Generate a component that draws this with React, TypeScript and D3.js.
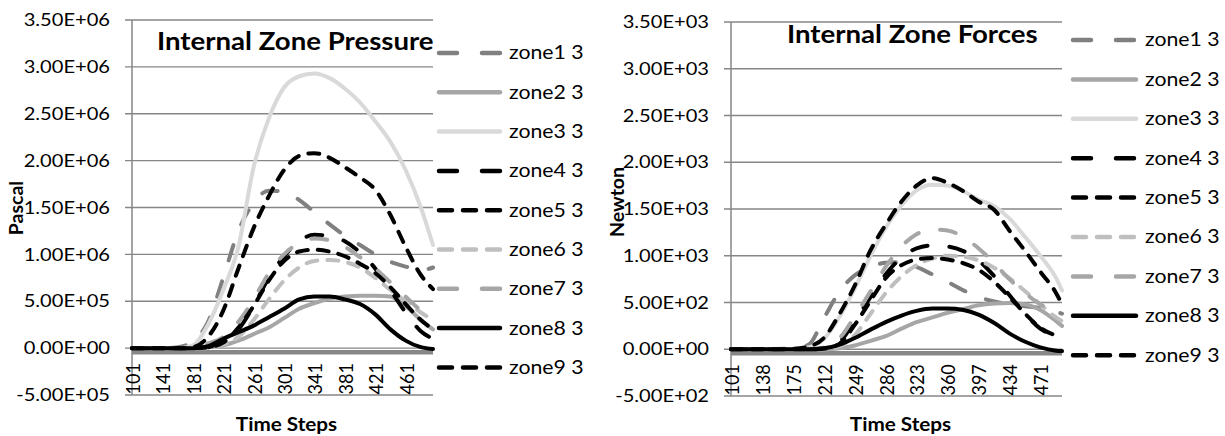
import React from 'react';
import * as d3 from 'd3';

const FONT = "Lato, 'Open Sans', sans-serif";
const SX = 1.15; // horizontal stretch of text in the reference

// ---------- Legend / series styling ----------
const zoneNames = ['zone1 3', 'zone2 3', 'zone3 3', 'zone4 3', 'zone5 3', 'zone6 3', 'zone7 3', 'zone8 3', 'zone9 3'];
const zoneColors = ['#808080', '#a6a6a6', '#d9d9d9', '#000000', '#000000', '#bfbfbf', '#a6a6a6', '#000000', '#000000'];
const zoneDash = ['long', 'solid', 'solid', 'long', 'short', 'short', 'long', 'solid', 'short'];

// ---------- Internal Zone Pressure (Pa) ----------
const pressureSteps = [101, 141, 161, 181, 201, 221, 241, 261, 281, 301, 321, 341, 361, 381, 401, 421, 441, 461, 481, 497];
const pZone1 = [0, 0, 0.01e6, 0.07e6, 0.28e6, 0.75e6, 1.25e6, 1.55e6, 1.68e6, 1.67e6, 1.58e6, 1.45e6, 1.32e6, 1.2e6, 1.1e6, 1.0e6, 0.92e6, 0.87e6, 0.83e6, 0.86e6];
const pZone2 = [0, 0, 0, 0, 0.01e6, 0.03e6, 0.08e6, 0.15e6, 0.22e6, 0.32e6, 0.42e6, 0.48e6, 0.53e6, 0.55e6, 0.56e6, 0.56e6, 0.55e6, 0.45e6, 0.3e6, 0.2e6];
const pZone3 = [0, 0, 0, 0.03e6, 0.25e6, 0.62e6, 1.08e6, 1.93e6, 2.45e6, 2.78e6, 2.9e6, 2.93e6, 2.88e6, 2.77e6, 2.62e6, 2.42e6, 2.2e6, 1.9e6, 1.5e6, 1.1e6];
const pZone4 = [0, 0, 0, 0, 0.01e6, 0.08e6, 0.2e6, 0.45e6, 0.75e6, 0.98e6, 1.14e6, 1.21e6, 1.19e6, 1.14e6, 1.02e6, 0.85e6, 0.62e6, 0.38e6, 0.18e6, 0.1e6];
const pZone5 = [0, 0, 0, 0.01e6, 0.12e6, 0.4e6, 0.85e6, 1.28e6, 1.62e6, 1.9e6, 2.05e6, 2.08e6, 2.03e6, 1.93e6, 1.82e6, 1.69e6, 1.42e6, 1.08e6, 0.78e6, 0.63e6];
const pZone6 = [0, 0, 0, 0, 0, 0.04e6, 0.12e6, 0.3e6, 0.52e6, 0.72e6, 0.86e6, 0.93e6, 0.94e6, 0.92e6, 0.86e6, 0.75e6, 0.62e6, 0.5e6, 0.38e6, 0.3e6];
const pZone7 = [0, 0, 0, 0.01e6, 0.05e6, 0.12e6, 0.28e6, 0.52e6, 0.8e6, 1.0e6, 1.12e6, 1.17e6, 1.15e6, 1.08e6, 0.97e6, 0.85e6, 0.7e6, 0.55e6, 0.4e6, 0.3e6];
const pZone8 = [0, 0, 0, 0, 0.02e6, 0.1e6, 0.17e6, 0.24e6, 0.33e6, 0.42e6, 0.52e6, 0.55e6, 0.55e6, 0.52e6, 0.47e6, 0.36e6, 0.2e6, 0.08e6, 0.01e6, -0.01e6];
const pZone9 = [0, 0, 0, 0, 0.01e6, 0.06e6, 0.22e6, 0.45e6, 0.72e6, 0.93e6, 1.03e6, 1.05e6, 1.03e6, 0.98e6, 0.9e6, 0.8e6, 0.65e6, 0.47e6, 0.3e6, 0.2e6];
const pressureTicksX = [101, 141, 181, 221, 261, 301, 341, 381, 421, 461];
const pressureTicksY = [-5e5, 0, 5e5, 1e6, 1.5e6, 2e6, 2.5e6, 3e6, 3.5e6];

// ---------- Internal Zone Forces (N) ----------
const forceSteps = [101, 138, 175, 194, 212, 231, 249, 268, 286, 305, 323, 342, 360, 379, 397, 416, 434, 453, 471, 490, 497];
const fZone1 = [0, 0, 10, 50, 330, 620, 790, 880, 925, 930, 880, 800, 720, 630, 560, 510, 480, 460, 440, 400, 380];
const fZone2 = [0, 0, 0, 0, 0, 10, 40, 90, 140, 220, 290, 340, 390, 430, 470, 490, 495, 480, 420, 300, 250];
const fZone3 = [0, 0, 0, 20, 110, 350, 650, 1000, 1300, 1540, 1700, 1760, 1750, 1690, 1600, 1530, 1400, 1200, 1000, 760, 630];
const fZone4 = [0, 0, 0, 0, 10, 80, 300, 560, 800, 980, 1080, 1110, 1100, 1050, 950, 780, 580, 380, 220, 140, 120];
const fZone5 = [0, 0, 5, 30, 120, 380, 680, 1060, 1330, 1580, 1750, 1830, 1780, 1690, 1580, 1490, 1270, 1050, 830, 600, 480];
const fZone6 = [0, 0, 0, 0, 0, 30, 150, 380, 600, 780, 900, 970, 1000, 990, 950, 870, 760, 620, 480, 340, 300];
const fZone7 = [0, 0, 0, 0, 20, 120, 350, 620, 880, 1100, 1230, 1280, 1270, 1200, 1080, 920, 750, 600, 480, 400, 370];
const fZone8 = [0, 0, 0, 0, 10, 50, 120, 210, 290, 360, 410, 435, 435, 420, 370, 280, 170, 80, 20, -15, -20];
const fZone9 = [0, 0, 0, 0, 5, 60, 260, 520, 760, 900, 960, 975, 960, 920, 850, 720, 560, 380, 230, 150, 140];
const forceTicksX = [101, 138, 175, 212, 249, 286, 323, 360, 397, 434, 471];
const forceTicksY = [-500, 0, 500, 1000, 1500, 2000, 2500, 3000, 3500];

const LAST_STEP = 497;

function sci(v: number): string {
  if (v === 0) return '0.00E+00';
  const e = Math.floor(Math.log10(Math.abs(v)));
  const m = v / Math.pow(10, e);
  return `${m.toFixed(2)}E${e < 0 ? '-' : '+'}${String(Math.abs(e)).padStart(2, '0')}`;
}

function dashArray(kind: string): string | undefined {
  if (kind === 'long') return '16 22';
  if (kind === 'short') return '11 10';
  return undefined;
}

function SText(props: {
  x: number;
  y: number;
  size: number;
  anchor?: string;
  bold?: boolean;
  children: React.ReactNode;
}) {
  return (
    <text
      transform={`translate(${props.x},${props.y}) scale(${SX},1)`}
      dy="0.35em"
      textAnchor={props.anchor || 'start'}
      fontFamily={FONT}
      fontWeight={props.bold ? 'bold' : 'normal'}
      fontSize={props.size}
      fill="#000"
    >
      {props.children}
    </text>
  );
}

type PanelProps = {
  title: string;
  titleX: number;
  titleY: number;
  yTitle: string;
  yTitleX: number;
  yTitleY: number;
  plotL: number;
  plotR: number;
  yTop: number;
  yBot: number;
  yLabelX: number;
  steps: number[];
  series: number[][];
  ticksX: number[];
  ticksY: number[];
  legendX0: number;
  legendX1: number;
  legendTextX: number;
  legendY0: number;
  legendDY: number;
};

function Panel(p: PanelProps) {
  const x = d3.scaleLinear().domain([101, LAST_STEP]).range([p.plotL, p.plotR]);
  const y = d3
    .scaleLinear()
    .domain([p.ticksY[0], p.ticksY[p.ticksY.length - 1]])
    .range([p.yBot, p.yTop]);
  const line = d3
    .line<[number, number]>()
    .x((d) => x(d[0]))
    .y((d) => y(d[1]))
    .curve(d3.curveMonotoneX);
  const gridColor = '#868686';
  return (
    <g>
      {p.ticksY.map((t) => (
        <line key={'g' + t} x1={p.plotL - 7} x2={p.plotR} y1={y(t)} y2={y(t)} stroke={gridColor} strokeWidth={1.3} />
      ))}
      <line x1={p.plotL} x2={p.plotL} y1={y(p.ticksY[p.ticksY.length - 1])} y2={p.yBot} stroke={gridColor} strokeWidth={1.5} />
      <line x1={p.plotL} x2={p.plotR} y1={y(0) + 4} y2={y(0) + 4} stroke="#878787" strokeWidth={4.5} />
      {p.ticksY.map((t) => (
        <SText key={'yl' + t} x={p.yLabelX} y={y(t)} size={17.5} anchor="end">
          {sci(t)}
        </SText>
      ))}
      {p.ticksX.map((t) => (
        <text
          key={'xl' + t}
          transform={`translate(${x(t) + 1},${y(0) + 15}) rotate(-90) scale(1,1.1)`}
          dy="0.35em"
          textAnchor="end"
          fontFamily={FONT}
          fontSize={18}
          fill="#000"
        >
          {t}
        </text>
      ))}
      {p.series.map((vals, i) => (
        <path
          key={'s' + i}
          d={line(p.steps.map((s, j) => [s, vals[j]] as [number, number])) || ''}
          fill="none"
          stroke={zoneColors[i]}
          strokeWidth={4}
          strokeDasharray={dashArray(zoneDash[i])}
          strokeLinecap="round"
          strokeLinejoin="round"
        />
      ))}
      <SText x={p.titleX} y={p.titleY} size={24} bold>
        {p.title}
      </SText>
      <SText x={(p.plotL + p.plotR) / 2 + 4} y={425} size={18} bold anchor="middle">
        Time Steps
      </SText>
      <text
        transform={`translate(${p.yTitleX},${p.yTitleY}) rotate(-90)`}
        dy="0.35em"
        textAnchor="middle"
        fontFamily={FONT}
        fontWeight="bold"
        fontSize={19.5}
        fill="#000"
      >
        {p.yTitle}
      </text>
      {zoneNames.map((n, i) => {
        const ly = p.legendY0 + i * p.legendDY;
        return (
          <g key={'lg' + i}>
            <line
              x1={p.legendX0}
              x2={p.legendX1}
              y1={ly}
              y2={ly}
              stroke={zoneColors[i]}
              strokeWidth={4.5}
              strokeDasharray={zoneDash[i] === 'long' ? '18 25' : zoneDash[i] === 'short' ? '13 11' : undefined}
              strokeLinecap="round"
            />
            <SText x={p.legendTextX} y={ly} size={18.5}>
              {n}
            </SText>
          </g>
        );
      })}
    </g>
  );
}

export default function App() {
  return (
    <svg
      width={1225}
      height={436}
      viewBox="0 0 1225 436"
      style={{ position: 'absolute', left: 0, top: 0, background: '#fff' }}
    >
      <rect x={0} y={0} width={1225} height={436} fill="#fff" />
      <Panel
        title="Internal Zone Pressure"
        titleX={157}
        titleY={42}
        yTitle="Pascal"
        yTitleX={16}
        yTitleY={208}
        plotL={132}
        plotR={433}
        yTop={20}
        yBot={395}
        yLabelX={110}
        steps={pressureSteps}
        series={[pZone1, pZone2, pZone3, pZone4, pZone5, pZone6, pZone7, pZone8, pZone9]}
        ticksX={pressureTicksX}
        ticksY={pressureTicksY}
        legendX0={439}
        legendX1={500}
        legendTextX={509}
        legendY0={53}
        legendDY={39.3}
      />
      <Panel
        title="Internal Zone Forces"
        titleX={787}
        titleY={35}
        yTitle="Newton"
        yTitleX={617}
        yTitleY={202}
        plotL={731}
        plotR={1062}
        yTop={22}
        yBot={396}
        yLabelX={709}
        steps={forceSteps}
        series={[fZone1, fZone2, fZone3, fZone4, fZone5, fZone6, fZone7, fZone8, fZone9]}
        ticksX={forceTicksX}
        ticksY={forceTicksY}
        legendX0={1073}
        legendX1={1136}
        legendTextX={1145}
        legendY0={40}
        legendDY={39.4}
      />
    </svg>
  );
}
